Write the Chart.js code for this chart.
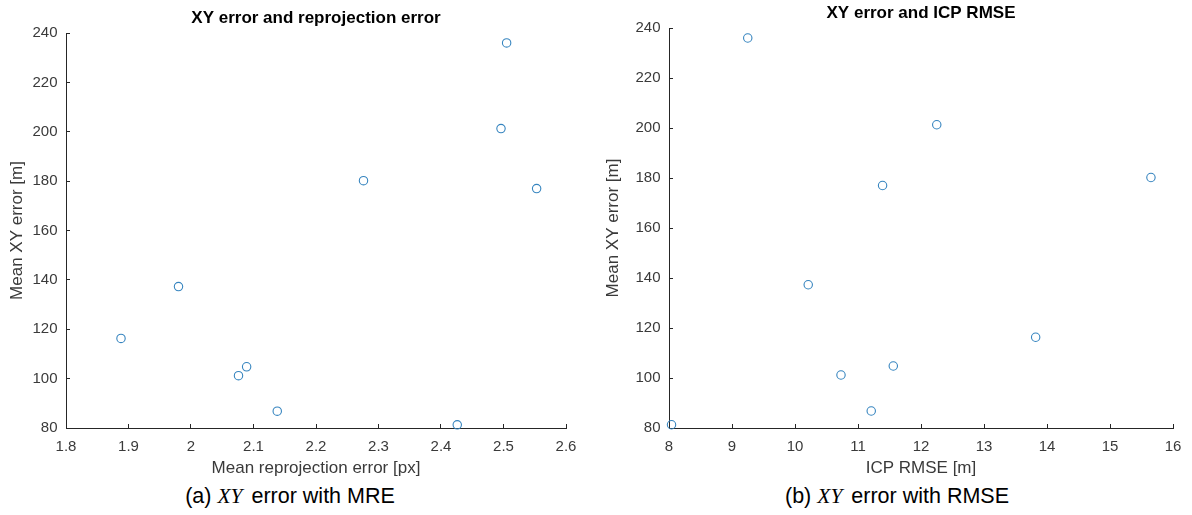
<!DOCTYPE html>
<html>
<head>
<meta charset="utf-8">
<title>XY error scatter</title>
<script src="https://cdn.jsdelivr.net/npm/chart.js@4.4.1/dist/chart.umd.min.js"></script>
<style>
    html, body {
        margin: 0;
        padding: 0;
        background: #fff;
        width: 1192px;
        height: 515px;
        overflow: hidden;
    }
    canvas {
        position: absolute;
        top: 0;
    }
    #mreChart { left: 0; }
    #rmseChart { left: 603px; }
    .caption {
        position: absolute;
        top: 484px;
        font: 21.5px "Liberation Sans", Arial, sans-serif;
        line-height: 24px;
        color: #000;
        white-space: nowrap;
        transform: translateX(-50%);
    }
    .caption i {
        font-family: "Liberation Serif", "Times New Roman", serif;
        padding-right: 3px;
    }
</style>
</head>
<body>
<canvas id="mreChart" width="632" height="480"></canvas>
<canvas id="rmseChart" width="636" height="480"></canvas>
<div class="caption" style="left:290px">(a) <i>XY</i> error with MRE</div>
<div class="caption" style="left:897px">(b) <i>XY</i> error with RMSE</div>

<script>
// one entry per test sequence, same order in every array
const meanXYError = [236.0, 201.3, 180.2, 177.0, 137.3, 116.3, 104.8, 101.2, 86.8, 81.3];
const meanReprojError = [2.505, 2.496, 2.276, 2.553, 1.980, 1.888, 2.089, 2.076, 2.138, 2.426];
const icpRmse = [9.25, 12.25, 15.65, 11.39, 10.21, 13.82, 11.56, 10.73, 11.21, 8.04];

const mreTicks = { min: 1.8, max: 2.6, step: 0.1 };
const rmseTicks = { min: 8, max: 16, step: 1 };
const xyTicks = { min: 80, max: 240, step: 20 };

const AXIS_COLOR = '#262626';
const LABEL_COLOR = '#3a3a3a';
const MARKER_COLOR = '#3584bf';

Chart.defaults.font.family = '"Liberation Sans", Arial, sans-serif';
Chart.defaults.animation = false;

function tickText(value) {
    return String(Number(value.toFixed(2)));
}

// matlab style axes: left + bottom lines only, short ticks pointing inward
function makeScatter(canvasId, cfg) {
    const points = cfg.xs.map((x, i) => ({ x: x, y: meanXYError[i] }));

    return new Chart(document.getElementById(canvasId), {
        type: 'scatter',
        data: {
            datasets: [{
                data: points,
                pointStyle: 'circle',
                pointRadius: 4.2,
                pointBorderWidth: 1.1,
                borderColor: MARKER_COLOR,
                backgroundColor: 'rgba(0,0,0,0)',
                clip: false
            }]
        },
        options: {
            responsive: false,
            layout: { padding: 0 },
            plugins: {
                legend: { display: false },
                tooltip: { enabled: false },
                title: {
                    display: true,
                    text: cfg.title,
                    color: '#000',
                    font: { size: 17, weight: 'bold' },
                    padding: { top: cfg.titleTop, bottom: cfg.titleBottom }
                }
            },
            scales: {
                x: {
                    type: 'linear',
                    position: 'bottom',
                    min: cfg.xTicks.min,
                    max: cfg.xTicks.max,
                    ticks: {
                        stepSize: cfg.xTicks.step,
                        color: LABEL_COLOR,
                        font: { size: 15 },
                        padding: 14,
                        maxRotation: 0,
                        autoSkip: false,
                        callback: tickText
                    },
                    grid: {
                        display: true,
                        drawOnChartArea: false,
                        drawTicks: true,
                        tickLength: -4,
                        color: AXIS_COLOR
                    },
                    border: { display: true, color: AXIS_COLOR, width: 1 },
                    title: {
                        display: true,
                        text: cfg.xLabel,
                        color: LABEL_COLOR,
                        font: { size: 17 },
                        padding: { top: 0, bottom: 1.8 }
                    },
                    afterFit: scale => { scale.height = 52; }
                },
                y: {
                    type: 'linear',
                    position: 'left',
                    min: xyTicks.min,
                    max: xyTicks.max,
                    ticks: {
                        stepSize: xyTicks.step,
                        color: LABEL_COLOR,
                        font: { size: 15 },
                        padding: 12.5,
                        callback: tickText
                    },
                    grid: {
                        display: true,
                        drawOnChartArea: false,
                        drawTicks: true,
                        tickLength: -4,
                        color: AXIS_COLOR
                    },
                    border: { display: true, color: AXIS_COLOR, width: 1 },
                    title: {
                        display: true,
                        text: 'Mean XY error [m]',
                        color: LABEL_COLOR,
                        font: { size: 17 },
                        padding: { top: cfg.yTitlePad, bottom: 0 }
                    },
                    afterFit: scale => { scale.width = 66; }
                },
                // empty gutter on the right so the title sits over the plot
                gutter: {
                    axis: 'y',
                    position: 'right',
                    display: true,
                    ticks: { display: false },
                    grid: { display: false },
                    border: { display: false },
                    afterFit: scale => { scale.width = 66; }
                }
            }
        }
    });
}

document.addEventListener('DOMContentLoaded', function() {
    makeScatter('mreChart', {
        xs: meanReprojError,
        xTicks: mreTicks,
        title: 'XY error and reprojection error',
        xLabel: 'Mean reprojection error [px]',
        titleTop: 8.1,
        titleBottom: 4.5,
        yTitlePad: 6.8
    });

    makeScatter('rmseChart', {
        xs: icpRmse,
        xTicks: rmseTicks,
        title: 'XY error and ICP RMSE',
        xLabel: 'ICP RMSE [m]',
        titleTop: 3.1,
        titleBottom: 4.5,
        yTitlePad: 0
    });
});
</script>
</body>
</html>
